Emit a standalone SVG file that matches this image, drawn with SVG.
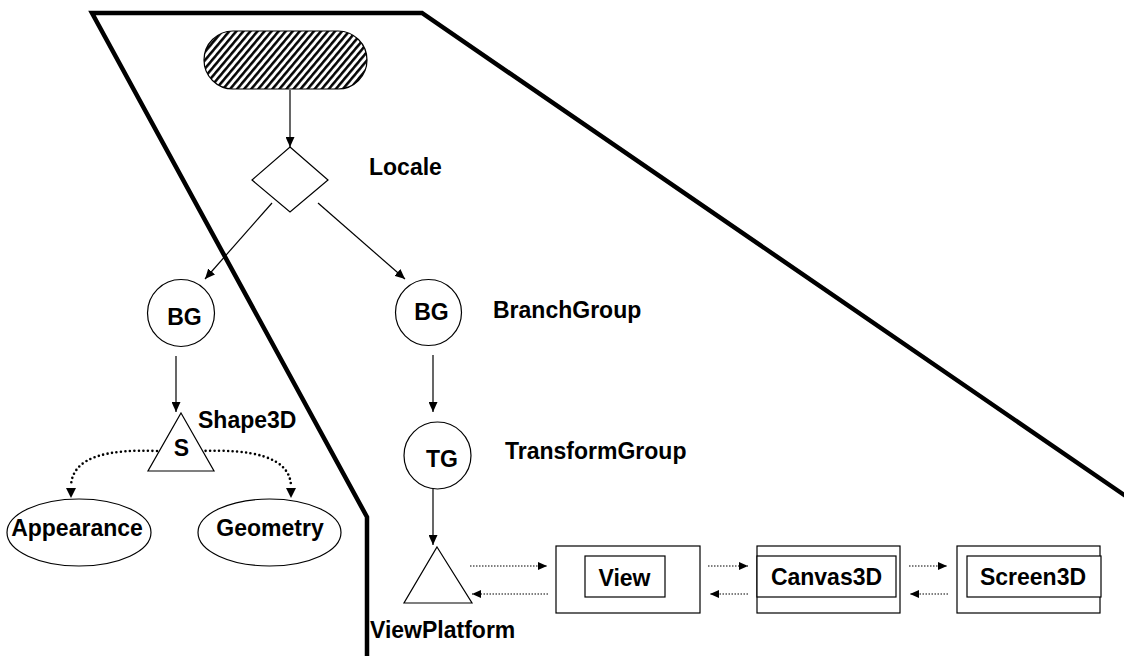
<svg xmlns="http://www.w3.org/2000/svg" width="1124" height="656" viewBox="0 0 1124 656">
  <style>
    .shape { fill: #fff; stroke: #000; stroke-width: 1.2; }
    .lbl { font-family: "Liberation Sans", Arial, Helvetica, sans-serif; font-weight: bold; font-size: 23px; fill: #000; }
    .mid { text-anchor: middle; }
    .edge { fill: none; stroke: #000; stroke-width: 1.2; }
    .ref { fill: none; stroke: #000; stroke-width: 1.2; stroke-dasharray: 1.5 1.5; }
    .attr { fill: none; stroke: #000; stroke-width: 2.6; stroke-dasharray: 0 4.5; stroke-linecap: round; }
    .boundary { fill: none; stroke: #000; stroke-width: 4.5; stroke-linejoin: miter; }
  </style>
  <defs>
    <pattern id="hatch" width="5.4" height="10" patternUnits="userSpaceOnUse" patternTransform="rotate(40)">
      <rect width="5.4" height="10" fill="#fff"/>
      <line x1="1.3" y1="0" x2="1.3" y2="10" stroke="#000" stroke-width="2.5"/>
    </pattern>
    <marker id="arrow" markerUnits="userSpaceOnUse" markerWidth="11" markerHeight="9" refX="10" refY="4.5" orient="auto">
      <path d="M0,0 L10,4.5 L0,9 z" fill="#000"/>
    </marker>
    <marker id="arrowSmall" markerUnits="userSpaceOnUse" markerWidth="10" markerHeight="8" refX="9" refY="4" orient="auto">
      <path d="M0,0 L9,4 L0,8 z" fill="#000"/>
    </marker>
  </defs>

  <!-- locale boundary -->
  <polyline class="boundary" points="367,660 367,517 92,13 422,13 1130,499"/>

  <!-- connectors -->
  <g id="connectors">
    <line class="edge" x1="290" y1="90" x2="290" y2="147" marker-end="url(#arrow)"/>
    <line class="edge" x1="272" y1="203" x2="205" y2="279" marker-end="url(#arrow)"/>
    <line class="edge" x1="318" y1="203" x2="405" y2="279" marker-end="url(#arrow)"/>
    <line class="edge" x1="176" y1="356" x2="176" y2="412" marker-end="url(#arrow)"/>
    <line class="edge" x1="433" y1="355" x2="433" y2="412" marker-end="url(#arrow)"/>
    <line class="edge" x1="433" y1="489" x2="433" y2="545" marker-end="url(#arrow)"/>
    <path class="attr" d="M157,451 C110,449 72,456 71,486"/>
    <path class="attr" d="M201,451 C250,449 290,456 291,486"/>
    <path d="M66,488 L76,488 L71,498 z" fill="#000"/>
    <path d="M286,488 L296,488 L291,498 z" fill="#000"/>
    <line class="ref" x1="470" y1="566" x2="547" y2="566" marker-end="url(#arrowSmall)"/>
    <line class="ref" x1="548" y1="594" x2="472" y2="594" marker-end="url(#arrowSmall)"/>
    <line class="ref" x1="708" y1="566" x2="748" y2="566" marker-end="url(#arrowSmall)"/>
    <line class="ref" x1="748" y1="594" x2="710" y2="594" marker-end="url(#arrowSmall)"/>
    <line class="ref" x1="909" y1="566" x2="947" y2="566" marker-end="url(#arrowSmall)"/>
    <line class="ref" x1="948" y1="594" x2="910" y2="594" marker-end="url(#arrowSmall)"/>
  </g>

  <!-- virtual universe -->
  <g id="universe">
    <rect x="204" y="31" width="163" height="58" rx="29" ry="29" fill="url(#hatch)" stroke="#000" stroke-width="1.2"/>
  </g>

  <g id="locale">
    <polygon class="shape" points="290,147 328,180 290,212 252,180"/>
    <text class="lbl" x="369" y="175">Locale</text>
  </g>

  <g id="bg-content">
    <circle class="shape" cx="181" cy="313" r="33.5"/>
    <text class="lbl mid" x="184.5" y="325">BG</text>
  </g>

  <g id="bg-view">
    <circle class="shape" cx="428.5" cy="312.5" r="33"/>
    <text class="lbl mid" x="431.5" y="320">BG</text>
    <text class="lbl" x="493" y="318">BranchGroup</text>
  </g>

  <g id="shape3d">
    <polygon class="shape" points="181,413 214,471 148,471"/>
    <text class="lbl mid" x="181.5" y="456">S</text>
    <text class="lbl" x="198" y="428">Shape3D</text>
  </g>

  <g id="appearance">
    <ellipse class="shape" cx="79" cy="532.5" rx="72" ry="33.5"/>
    <text class="lbl mid" x="77" y="536">Appearance</text>
  </g>

  <g id="geometry">
    <ellipse class="shape" cx="269.5" cy="532.5" rx="71.5" ry="33.5"/>
    <text class="lbl mid" x="270" y="536">Geometry</text>
  </g>

  <g id="transform-group">
    <circle class="shape" cx="437.5" cy="455.5" r="33.5"/>
    <text class="lbl mid" x="442" y="467">TG</text>
    <text class="lbl" x="505" y="459">TransformGroup</text>
  </g>

  <g id="view-platform">
    <polygon class="shape" points="437,547 472,603 404,603"/>
    <text class="lbl" x="370" y="638">ViewPlatform</text>
  </g>

  <g id="view">
    <rect class="shape" x="556" y="546" width="144" height="67"/>
    <rect class="shape" x="585" y="556" width="80" height="41"/>
    <text class="lbl mid" x="624.5" y="586">View</text>
  </g>

  <g id="canvas3d">
    <rect class="shape" x="757" y="546" width="143" height="67"/>
    <rect class="shape" x="757" y="556" width="139" height="41"/>
    <text class="lbl mid" x="826.5" y="585">Canvas3D</text>
  </g>

  <g id="screen3d">
    <rect class="shape" x="957" y="546" width="143" height="67"/>
    <rect class="shape" x="967" y="556" width="134" height="41"/>
    <text class="lbl mid" x="1033" y="585">Screen3D</text>
  </g>
</svg>
